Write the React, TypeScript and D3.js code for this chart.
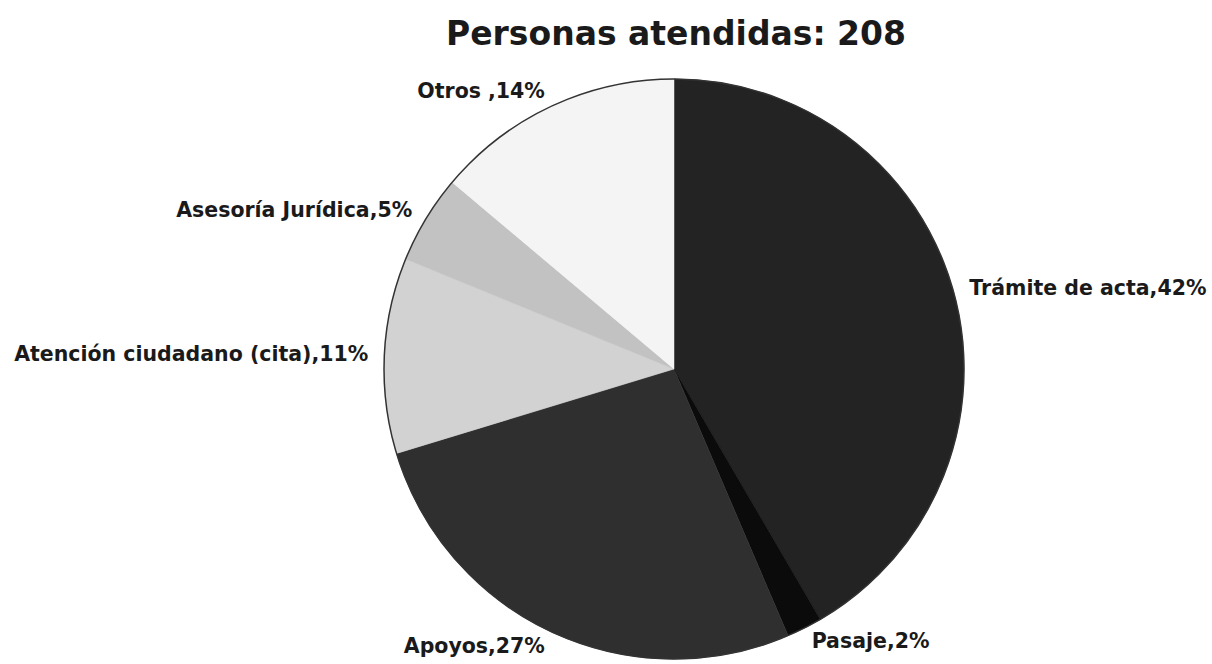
import React from "react";
import * as d3 from "d3";

const title = "Personas atendidas: 208";
const categories = [
  "Trámite de acta",
  "Pasaje",
  "Apoyos",
  "Atención ciudadano (cita)",
  "Asesoría Jurídica",
  "Otros ",
];
const percents = [42, 2, 27, 11, 5, 14];
const colors = ["#232323", "#0b0b0b", "#2f2f2f", "#d2d2d2", "#c2c2c2", "#f4f4f4"];

const W = 1212;
const H = 664;
const cx = 674;
const cy = 369;
const R = 290;
const labelR = 306;

export default function App() {
  const data = categories.map((c, i) => ({ name: c, value: percents[i], color: colors[i] }));
  const pie = d3.pie<any>().value((d) => d.value).sort(null);
  const arcs = pie(data);
  const arc = d3.arc<any>().innerRadius(0).outerRadius(R);

  return (
    <svg
      width={W}
      height={H}
      style={{ position: "absolute", left: 0, top: 0, background: "#fff" }}
      fontFamily="'DejaVu Sans', Lato, sans-serif"
    >
      <text
        x={cx + 2}
        y={45}
        textAnchor="middle"
        fontSize={33}
        fontWeight={700}
        fill="#1a1a1a"
      >
        {title}
      </text>
      <g transform={`translate(${cx},${cy})`}>
        {arcs.map((a, i) => (
          <path key={i} d={arc(a) || ""} fill={a.data.color} stroke={a.data.color} strokeWidth={0.5} />
        ))}
        <circle r={R} fill="none" stroke="#333" strokeWidth={1.5} />
        {arcs.map((a, i) => {
          const mid = (a.startAngle + a.endAngle) / 2;
          const x = labelR * Math.sin(mid);
          const y = -labelR * Math.cos(mid);
          const right = Math.sin(mid) >= 0;
          return (
            <text
              key={"l" + i}
              x={x}
              y={y}
              dy="0.3em"
              textAnchor={right ? "start" : "end"}
              fontSize={20.5}
              fontWeight={700}
              fill="#1a1a1a"
            >
              {`${a.data.name},${a.data.value}%`}
            </text>
          );
        })}
      </g>
    </svg>
  );
}
